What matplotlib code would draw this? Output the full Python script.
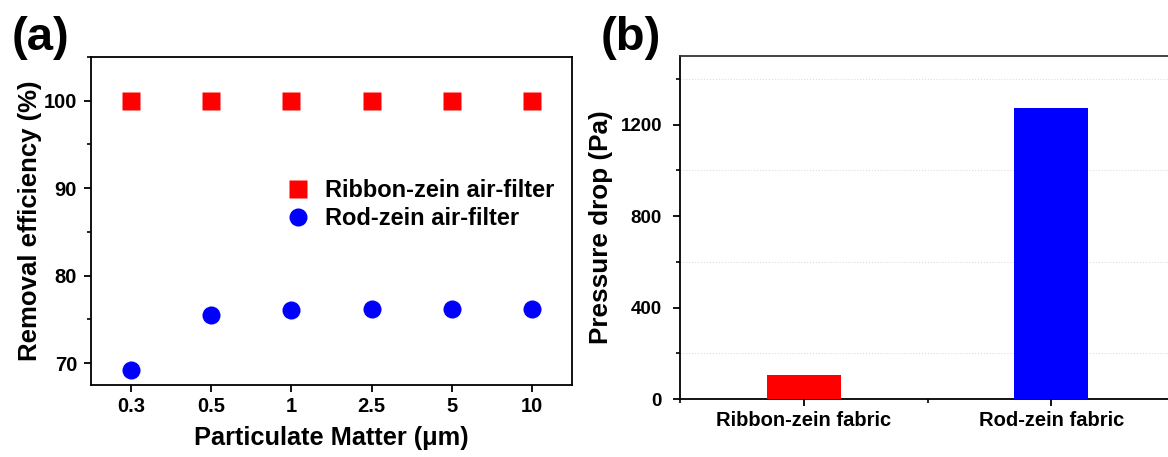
import numpy as np
import matplotlib
matplotlib.use("Agg")
import matplotlib.pyplot as plt
from matplotlib.ticker import MultipleLocator

plt.rcParams['font.family'] = ['Liberation Sans', 'DejaVu Sans']
plt.rcParams['font.weight'] = 'bold'

# (a) removal efficiency vs particle size
pm_sizes = ['0.3', '0.5', '1', '2.5', '5', '10']
ribbon_eff = [100, 100, 100, 100, 100, 100]
rod_eff = [69.2, 75.5, 76.1, 76.2, 76.2, 76.2]

# (b) pressure drop
fabrics = ['Ribbon-zein fabric', 'Rod-zein fabric']
pressure_drop = [105, 1273]
bar_colors = ['#ff0000', '#0000ff']

fig = plt.figure(figsize=(11.68, 4.57), dpi=100)

# ---- panel (a)
ax1 = fig.add_axes([0.0779, 0.1575, 0.4118, 0.7178])
x = np.arange(len(pm_sizes))
ax1.plot(x, ribbon_eff, 's', color='#ff0000', ms=12.5, mec='none', label='Ribbon-zein air-filter')
ax1.plot(x, rod_eff, 'o', color='#0000ff', ms=13, mec='none', label='Rod-zein air-filter')
ax1.set_xlim(-0.5, len(pm_sizes) - 0.5)
ax1.set_ylim(67.5, 105)
ax1.set_xticks(x)
ax1.set_xticklabels(pm_sizes)
ax1.set_yticks([70, 80, 90, 100])
ax1.yaxis.set_minor_locator(MultipleLocator(5))
ax1.tick_params(axis='both', which='major', direction='out', length=5, width=1.3, labelsize=14.5)
ax1.tick_params(axis='y', which='major', pad=5)
ax1.tick_params(axis='y', which='minor', direction='out', length=3, width=1.2)
ax1.set_xlabel('Particulate Matter (μm)', fontsize=18.3, fontweight='bold')
ax1.set_ylabel('Removal efficiency (%)', fontsize=18.5, fontweight='bold')
ax1.xaxis.set_label_coords(0.5, -0.125)
ax1.yaxis.set_label_coords(-0.102, 0.5)
for s in ax1.spines.values():
    s.set_linewidth(1.3)
ax1.legend(loc='upper left', bbox_to_anchor=(0.406, 0.628), frameon=False,
           fontsize=17, handlelength=1.0, handletextpad=0.65, labelspacing=0.22,
           borderpad=0, borderaxespad=0)

# ---- panel (b)
ax2 = fig.add_axes([0.5822, 0.1269, 0.4238, 0.7505])
xb = np.arange(1, len(fabrics) + 1)
ax2.bar(xb, pressure_drop, width=0.3, color=bar_colors, zorder=3)
ax2.set_xlim(0.5, 2.5)
ax2.set_ylim(0, 1500)
ax2.set_xticks(xb)
ax2.set_xticklabels(fabrics)
ax2.set_xticks([0.5, 1.5, 2.5], minor=True)
ax2.set_yticks([0, 400, 800, 1200])
ax2.set_yticks([200, 600, 1000, 1400], minor=True)
ax2.grid(True, which='minor', axis='y', linestyle=':', color='#dddddd', linewidth=0.8, zorder=0)
ax2.tick_params(axis='both', which='major', direction='out', length=5, width=1.3, labelsize=13.5)
ax2.tick_params(axis='y', which='major', pad=8)
ax2.tick_params(axis='x', which='major', labelsize=14.5)
ax2.tick_params(axis='both', which='minor', direction='out', length=3, width=1.2)
ax2.set_ylabel('Pressure drop (Pa)', fontsize=18.8, fontweight='bold')
ax2.yaxis.set_label_coords(-0.135, 0.5)
ax2.spines['right'].set_visible(False)
for s in ax2.spines.values():
    s.set_linewidth(1.3)
ax2.spines['top'].set_color('#333333')

fig.text(0.0103, 0.8906, '(a)', fontsize=34, fontweight='bold', va='baseline', ha='left')
fig.text(0.514, 0.8906, '(b)', fontsize=34, fontweight='bold', va='baseline', ha='left')

fig.savefig('out.png', dpi=100)
